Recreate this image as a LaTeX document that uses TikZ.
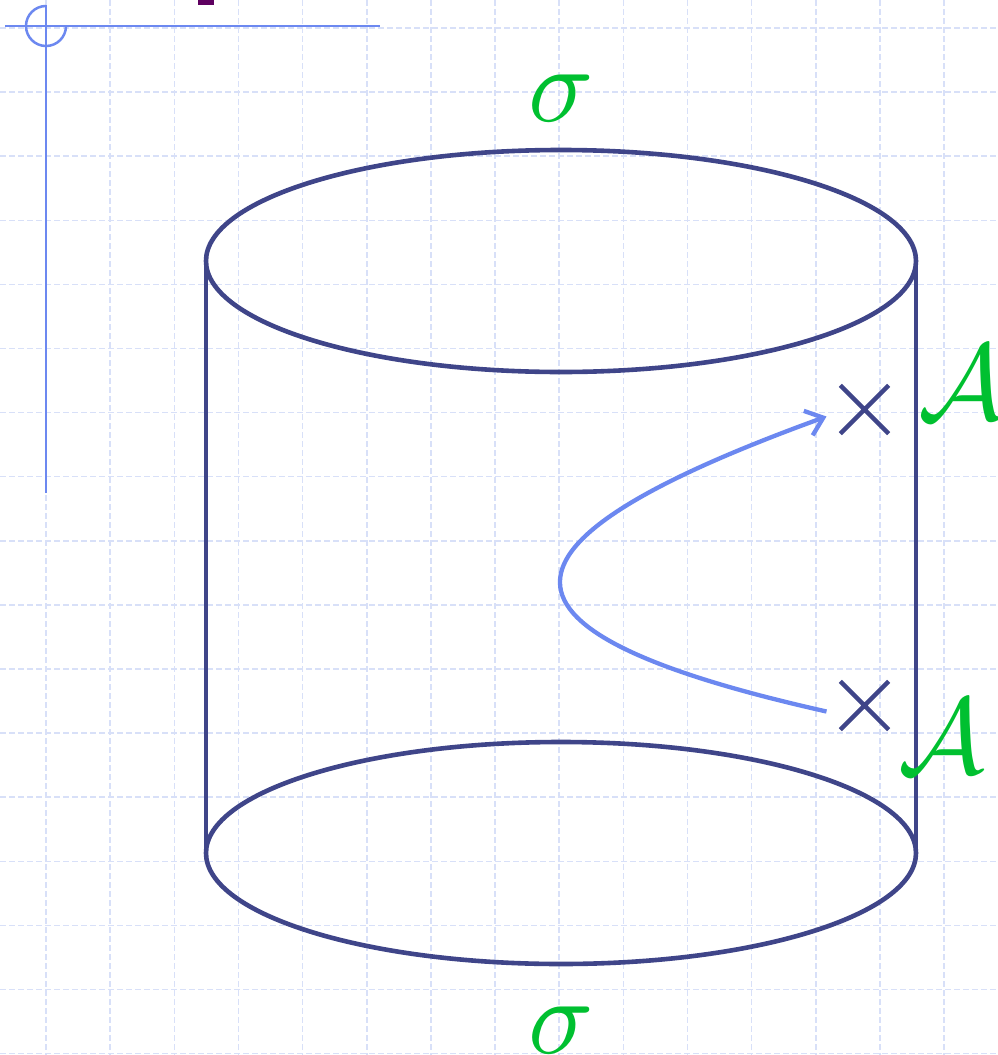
\documentclass[tikz,border=0pt]{standalone}
\usepackage{graphicx}
\usetikzlibrary{arrows.meta,shapes.misc}
\definecolor{cyl}{HTML}{3F4589}
\definecolor{arr}{HTML}{6C88F0}
\definecolor{grn}{HTML}{00C030}
\definecolor{gridc}{HTML}{D8E0F8}
\definecolor{purp}{HTML}{5E0060}
\tikzset{
  gridline/.style={gridc, line width=1.5pt, dash pattern=on 6pt off 3pt},
  cylline/.style={cyl, line width=4.6pt},
  xmark/.style={draw=cyl, cross out, line width=4.3pt, minimum size=44pt, inner sep=0pt},
  lab/.style={text=grn, inner sep=0pt},
  deco/.style={arr, line width=2.5pt},
}
\newcommand{\biglab}[1]{\scalebox{10.8}{$#1$}}
\begin{document}
\begin{tikzpicture}[x=1pt,y=-1pt]
\useasboundingbox (0,0) rectangle (998,1055);
\fill[white] (0,0) rectangle (998,1055);
% grid
\foreach \k in {0,...,14} { \draw[gridline] ({46+64.15*\k},0) -- ({46+64.15*\k},1055); }
\foreach \k in {0,...,16} { \draw[gridline] (0,{28+64.1*\k}) -- (998,{28+64.1*\k}); }
% slide decoration
\draw[deco] (5,26) -- (380,26);
\draw[deco] (46,5) -- (46,493);
\draw[deco] (46,6) arc[start angle=90, end angle=360, x radius=20pt, y radius=20pt];
\fill[purp] (198,0) rectangle (214,5);
% cylinder
\draw[cylline] (561,261) ellipse [x radius=355pt, y radius=111pt];
\draw[cylline] (561,853) ellipse [x radius=355pt, y radius=111pt];
\draw[cylline] (206,261) -- (206,853);
\draw[cylline] (916,261) -- (916,853);
% labels
\node[lab] (stop) at (561,98) {\biglab{\sigma}};
\node[lab] (sbot) at (561,1030) {\biglab{\sigma}};
\node[lab] (atop) at (962,383) {\biglab{\mathcal{A}}};
\node[lab] (abot) at (942,737) {\biglab{\mathcal{A}}};
% crosses
\node[xmark] (xtop) at (864.5,409.5) {};
\node[xmark] (xbot) at (864.5,705.5) {};
% path
\coordinate (pstart) at ([xshift=-38pt,yshift=-6pt]xbot.center);
\coordinate (pend) at ([xshift=-38pt,yshift=-7pt]xtop.center);
\draw[arr, line width=4.3pt, -{Straight Barb[length=16pt,width=26pt]}]
  (pstart) .. controls (472,632) and (472,545) .. (pend);
\end{tikzpicture}
\end{document}
